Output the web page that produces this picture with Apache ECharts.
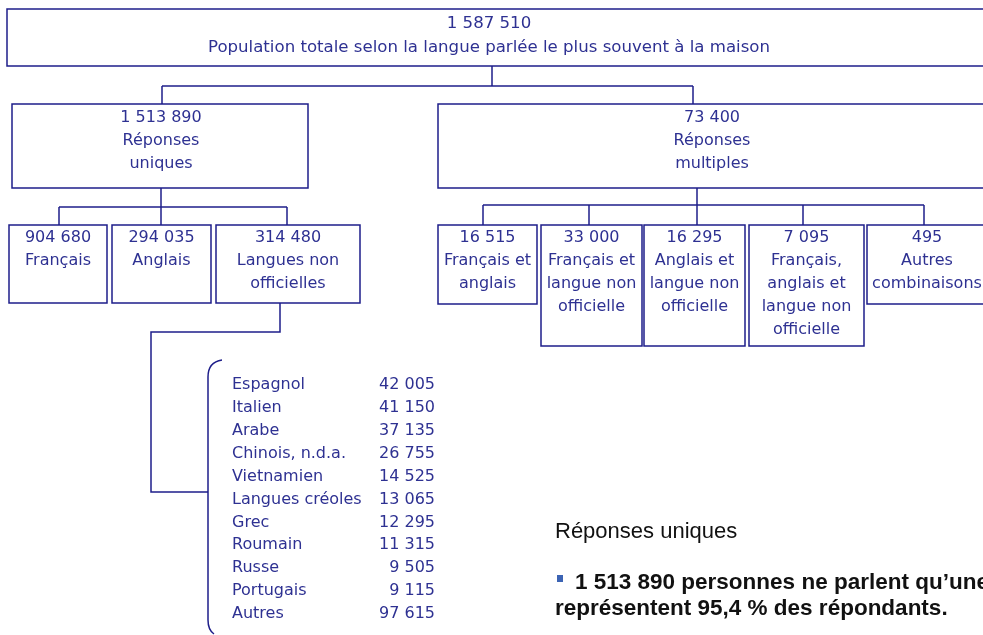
<!DOCTYPE html>
<html>
<head>
<meta charset="utf-8">
<title>Population selon la langue parlée le plus souvent à la maison</title>
<script src="https://cdn.jsdelivr.net/npm/echarts@6/dist/echarts.min.js"></script>
<style>
html, body { margin: 0; padding: 0; background: #fff; }
#chart { width: 983px; height: 635px; }
</style>
</head>
<body>
<div id="chart"></div>
<script>
// données
const totalValue = 1587510
const totalLabel = 'Population totale selon la langue parlée le plus souvent à la maison'

const groupValues = [1513890, 73400]
const groupLabels = ['Réponses\nuniques', 'Réponses\nmultiples']

const uniqueValues = [904680, 294035, 314480]
const uniqueLabels = ['Français', 'Anglais', 'Langues non\nofficielles']

const multipleValues = [16515, 33000, 16295, 7095, 495]
const multipleLabels = [
  'Français et\nanglais',
  'Français et\nlangue non\nofficielle',
  'Anglais et\nlangue non\nofficielle',
  'Français,\nanglais et\nlangue non\nofficielle',
  'Autres\ncombinaisons'
]

const otherLanguages = ['Espagnol', 'Italien', 'Arabe', 'Chinois, n.d.a.', 'Vietnamien', 'Langues créoles', 'Grec', 'Roumain', 'Russe', 'Portugais', 'Autres']
const otherValues = [42005, 41150, 37135, 26755, 14525, 13065, 12295, 11315, 9505, 9115, 97615]

const noteTitle = 'Réponses uniques'
const noteLines = ['1 513 890 personnes ne parlent qu’une seule langue', 'représentent 95,4 % des répondants.']

// styles
const LINE = '#1e1e8a'
const INK = '#2e3192'
const BOX_FONT = '16px "DejaVu Sans", sans-serif'
const NOTE_FONT = 'bold 22.5px "Liberation Sans", sans-serif'

// mise en page des boîtes (coordonnées de la grille)
const totalBox = { x0: 7, y0: 9, x1: 995, y1: 66, tx: 489, ty: 24, lh: 24 }
const groupBoxes = [
  { x0: 12, y0: 104, x1: 308, y1: 188, tx: 161, ty: 118, lh: 23 },
  { x0: 438, y0: 104, x1: 990, y1: 188, tx: 712, ty: 118, lh: 23 }
]
const uniqueBoxes = [
  { x0: 9, x1: 107, y1: 303 },
  { x0: 112, x1: 211, y1: 303 },
  { x0: 216, x1: 360, y1: 303 }
]
const multipleBoxes = [
  { x0: 438, x1: 537, y1: 304 },
  { x0: 541, x1: 642, y1: 346 },
  { x0: 644, x1: 745, y1: 346 },
  { x0: 749, x1: 864, y1: 346 },
  { x0: 867, x1: 987, y1: 304 }
]
const leafTop = 225

// liaisons : point de départ, niveau du bus, points d'arrivée
const links = [
  { from: [492, 66], busY: 86, toY: 104, xs: [162, 693] },
  { from: [161, 188], busY: 207, toY: leafTop, xs: [59, 161, 287] },
  { from: [697, 188], busY: 205, toY: leafTop, xs: [483, 589, 697, 803, 924] }
]
const listLink = [[280, 303], [280, 332], [151, 332], [151, 492], [208, 492]]

const listTop = 385
const listGap = 22.9

const fmt = v => String(v).replace(/\B(?=(\d{3})+(?!\d))/g, ' ')

const leaf = b => Object.assign({ y0: leafTop, tx: (b.x0 + b.x1) / 2, ty: 238, lh: 23 }, b)

const nodes = [
  { value: totalValue, label: totalLabel, box: totalBox },
  ...groupValues.map((v, i) => ({ value: v, label: groupLabels[i], box: groupBoxes[i] })),
  ...uniqueValues.map((v, i) => ({ value: v, label: uniqueLabels[i], box: leaf(uniqueBoxes[i]) })),
  ...multipleValues.map((v, i) => ({ value: v, label: multipleLabels[i], box: leaf(multipleBoxes[i]) }))
]
// Autres combinaisons : texte décalé
nodes[nodes.length - 1].box.tx = 927

const chart = echarts.init(document.getElementById('chart'))

chart.setOption({
  animation: false,
  grid: { left: 0, right: 0, top: 0, bottom: 0 },
  xAxis: { type: 'value', min: 0, max: 983, show: false },
  yAxis: { type: 'value', min: 0, max: 635, inverse: true, show: false },
  series: [
    {
      // liaisons
      type: 'custom',
      data: links.map((l, i) => [i, l.xs.length]),
      renderItem: (params, api) => {
        const l = links[params.dataIndex]
        const lineStyle = { stroke: LINE, lineWidth: 1.5, fill: null }
        const children = [
          { type: 'polyline', shape: { points: [api.coord(l.from), api.coord([l.from[0], l.busY])] }, style: lineStyle },
          { type: 'polyline', shape: { points: [api.coord([Math.min(...l.xs), l.busY]), api.coord([Math.max(...l.xs), l.busY])] }, style: lineStyle }
        ]
        l.xs.forEach(x => {
          children.push({ type: 'polyline', shape: { points: [api.coord([x, l.busY]), api.coord([x, l.toY])] }, style: lineStyle })
        })
        return { type: 'group', children }
      },
      z: 1
    },
    {
      // boîtes
      type: 'custom',
      data: nodes.map((n, i) => [i, n.value]),
      renderItem: (params, api) => {
        const n = nodes[params.dataIndex]
        const b = n.box
        const p0 = api.coord([b.x0, b.y0])
        const p1 = api.coord([b.x1, b.y1])
        const t = api.coord([b.tx, b.ty - b.lh / 2])
        return {
          type: 'group',
          children: [
            {
              type: 'rect',
              shape: { x: p0[0], y: p0[1], width: p1[0] - p0[0], height: p1[1] - p0[1] },
              style: { fill: '#fff', stroke: LINE, lineWidth: 1.5 }
            },
            {
              type: 'text',
              x: t[0],
              y: t[1],
              style: {
                text: fmt(n.value) + '\n' + n.label,
                font: params.dataIndex === 0 ? '16.6px "DejaVu Sans", sans-serif' : BOX_FONT,
                fill: INK,
                align: 'center',
                verticalAlign: 'top',
                lineHeight: b.lh
              }
            }
          ]
        }
      },
      z: 2
    },
    {
      // accolade et liste des langues non officielles
      type: 'custom',
      data: otherValues.map((v, i) => [i, v]),
      renderItem: (params, api) => {
        const i = params.dataIndex
        const y = listTop + i * listGap
        const pName = api.coord([232, y])
        const pVal = api.coord([435, y])
        const children = [
          { type: 'text', x: pName[0], y: pName[1], style: { text: otherLanguages[i], font: BOX_FONT, fill: INK, align: 'left', verticalAlign: 'middle' } },
          { type: 'text', x: pVal[0], y: pVal[1], style: { text: fmt(otherValues[i]), font: BOX_FONT, fill: INK, align: 'right', verticalAlign: 'middle' } }
        ]
        if (i === 0) {
          const a = api.coord([222, 360]), c1 = api.coord([208, 362]), b = api.coord([208, 377])
          const d = api.coord([208, 620]), c2 = api.coord([208, 630]), e = api.coord([214, 634])
          children.push({
            type: 'path',
            shape: { pathData: `M${a[0]},${a[1]} Q${c1[0]},${c1[1]} ${b[0]},${b[1]} L${d[0]},${d[1]} Q${c2[0]},${c2[1]} ${e[0]},${e[1]}` },
            style: { stroke: LINE, lineWidth: 1.5, fill: null }
          })
          children.push({
            type: 'polyline',
            shape: { points: listLink.map(p => api.coord(p)) },
            style: { stroke: LINE, lineWidth: 1.5, fill: null }
          })
        }
        return { type: 'group', children }
      },
      z: 2
    }
  ],
  graphic: [
    {
      type: 'text',
      left: 555,
      top: 521,
      style: { text: noteTitle, font: '22px "Liberation Sans", sans-serif', fill: '#111' }
    },
    {
      type: 'rect',
      left: 557,
      top: 575,
      shape: { width: 6, height: 7 },
      style: { fill: '#3c64b4' }
    },
    {
      type: 'text',
      left: 575,
      top: 571,
      style: { text: noteLines[0], font: NOTE_FONT, fill: '#111' }
    },
    {
      type: 'text',
      left: 555,
      top: 597,
      style: { text: noteLines[1], font: NOTE_FONT, fill: '#111' }
    }
  ]
})

window.addEventListener('resize', () => chart.resize())
</script>
</body>
</html>
